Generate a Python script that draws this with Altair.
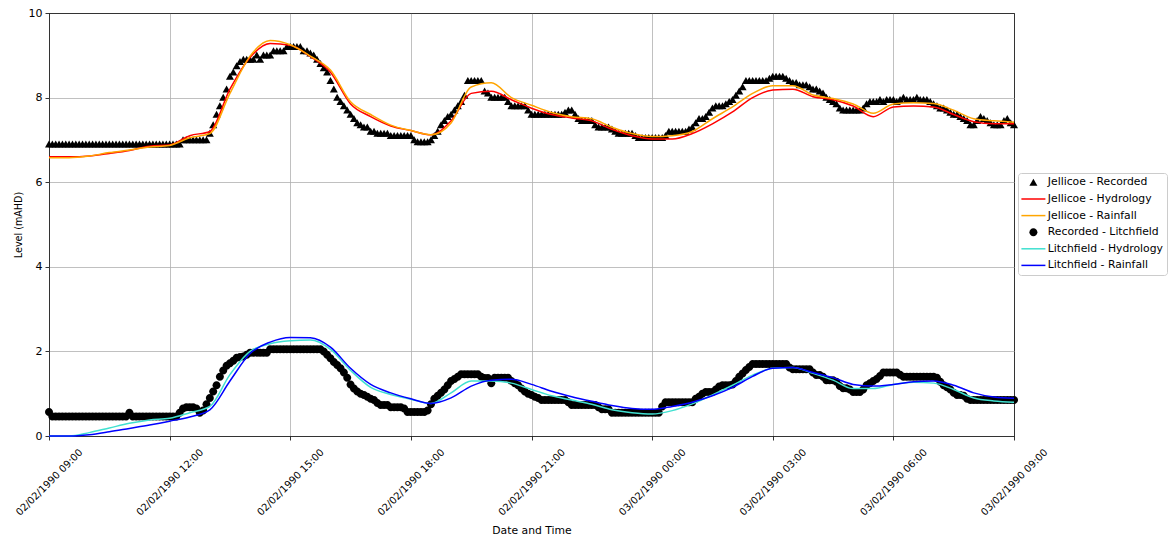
import altair as alt
import pandas as pd

# ---------------- data ----------------
NAMES = ["Jellicoe - Recorded", "Jellicoe - Hydrology", "Jellicoe - Rainfall",
         "Recorded - Litchfield", "Litchfield - Hydrology", "Litchfield - Rainfall"]
COLORS = ["#000000", "#ff0000", "#ffa500", "#000000", "#40e0d0", "#0000ff"]

START = "1990-02-02 09:00"
REC_STEP_MIN = 5      # recorded series: 5-minute samples
MOD_STEP_MIN = 30     # model series: 30-minute samples

jellicoe_recorded = [
    6.9, 6.9, 6.9, 6.9, 6.9, 6.9, 6.9, 6.9, 6.9, 6.9, 6.9, 6.9,
    6.9, 6.9, 6.9, 6.9, 6.9, 6.9, 6.9, 6.9, 6.9, 6.9, 6.9, 6.9,
    6.9, 6.9, 6.9, 6.9, 6.9, 6.9, 6.9, 6.9, 6.9, 6.9, 6.9, 6.9,
    6.9, 6.9, 6.9, 6.9, 7.0, 7.0, 7.0, 7.0, 7.0, 7.0, 7.0, 7.0,
    7.15, 7.35, 7.6, 7.8, 8.0, 8.2, 8.5, 8.6, 8.75, 8.85, 8.9, 8.9,
    8.9, 8.9, 9.0, 8.9, 9.0, 9.0, 9.0, 9.1, 9.1, 9.1, 9.1, 9.2,
    9.2, 9.2, 9.2, 9.2, 9.1, 9.1, 9.05, 9.0, 8.9, 8.8, 8.7, 8.6,
    8.4, 8.2, 8.0, 7.9, 7.8, 7.7, 7.6, 7.5, 7.4, 7.35, 7.3, 7.3,
    7.2, 7.2, 7.15, 7.15, 7.15, 7.15, 7.1, 7.1, 7.1, 7.1, 7.1, 7.1,
    7.1, 7.0, 6.95, 6.95, 6.95, 6.95, 7.0, 7.1, 7.2, 7.35, 7.45, 7.55,
    7.6, 7.7, 7.8, 7.9, 8.05, 8.4, 8.4, 8.4, 8.4, 8.4, 8.15, 8.1,
    8.0, 8.0, 8.0, 8.0, 8.0, 7.9, 7.8, 7.8, 7.8, 7.8, 7.8, 7.7,
    7.6, 7.6, 7.6, 7.6, 7.6, 7.6, 7.6, 7.6, 7.6, 7.6, 7.65, 7.7,
    7.7, 7.6, 7.5, 7.45, 7.45, 7.45, 7.45, 7.35, 7.3, 7.3, 7.3, 7.3,
    7.25, 7.2, 7.15, 7.15, 7.15, 7.15, 7.15, 7.1, 7.05, 7.05, 7.05, 7.05,
    7.05, 7.05, 7.05, 7.05, 7.1, 7.2, 7.2, 7.2, 7.2, 7.2, 7.2, 7.25,
    7.3, 7.4, 7.5, 7.5, 7.55, 7.65, 7.75, 7.8, 7.8, 7.8, 7.85, 7.9,
    7.95, 8.05, 8.15, 8.25, 8.4, 8.4, 8.4, 8.4, 8.4, 8.4, 8.4, 8.45,
    8.5, 8.5, 8.5, 8.5, 8.45, 8.4, 8.35, 8.35, 8.3, 8.3, 8.3, 8.25,
    8.2, 8.2, 8.15, 8.1, 8.0, 7.95, 7.9, 7.85, 7.75, 7.7, 7.7, 7.7,
    7.7, 7.7, 7.7, 7.75, 7.85, 7.9, 7.9, 7.9, 7.95, 7.9, 7.95, 7.95,
    7.95, 7.9, 7.95, 8.0, 7.95, 7.95, 7.95, 8.0, 7.95, 7.95, 7.95, 7.9,
    7.85, 7.8, 7.75, 7.75, 7.7, 7.65, 7.6, 7.6, 7.55, 7.5, 7.45, 7.35,
    7.35, 7.45, 7.55, 7.5, 7.45, 7.4, 7.35, 7.35, 7.35, 7.45, 7.5, 7.4,
    7.35,
]

litchfield_recorded = [
    0.57, 0.46, 0.46, 0.46, 0.46, 0.46, 0.46, 0.46, 0.46, 0.46, 0.46, 0.46,
    0.46, 0.46, 0.46, 0.46, 0.46, 0.46, 0.46, 0.46, 0.46, 0.46, 0.46, 0.46,
    0.55, 0.46, 0.46, 0.46, 0.46, 0.46, 0.46, 0.46, 0.46, 0.46, 0.46, 0.46,
    0.46, 0.46, 0.46, 0.55, 0.65, 0.68, 0.68, 0.68, 0.65, 0.55, 0.6, 0.75,
    0.9, 1.05, 1.2, 1.4, 1.55, 1.66, 1.72, 1.78, 1.85, 1.87, 1.88, 1.92,
    1.97, 1.97, 1.97, 1.97, 1.97, 1.97, 2.05, 2.05, 2.05, 2.05, 2.05, 2.05,
    2.05, 2.05, 2.05, 2.05, 2.05, 2.05, 2.05, 2.05, 2.05, 2.05, 2.0, 1.92,
    1.84, 1.75, 1.68, 1.6, 1.5, 1.38, 1.22, 1.12, 1.05, 1.0, 0.97, 0.93,
    0.88, 0.85, 0.78, 0.73, 0.73, 0.73, 0.68, 0.68, 0.68, 0.68, 0.65, 0.57,
    0.57, 0.57, 0.57, 0.57, 0.57, 0.6, 0.75, 0.88, 0.95, 1.02, 1.1, 1.2,
    1.3, 1.35, 1.4, 1.46, 1.46, 1.46, 1.46, 1.46, 1.46, 1.4, 1.37, 1.37,
    1.25, 1.38, 1.38, 1.38, 1.38, 1.38, 1.3, 1.25, 1.2, 1.12, 1.05, 1.0,
    0.97, 0.93, 0.9, 0.85, 0.85, 0.85, 0.85, 0.85, 0.85, 0.85, 0.85, 0.8,
    0.73, 0.73, 0.73, 0.73, 0.73, 0.73, 0.73, 0.73, 0.68, 0.63, 0.63, 0.63,
    0.55, 0.55, 0.55, 0.55, 0.55, 0.55, 0.55, 0.55, 0.55, 0.55, 0.55, 0.55,
    0.55, 0.55, 0.55, 0.7, 0.8, 0.8, 0.8, 0.8, 0.8, 0.8, 0.8, 0.8,
    0.8, 0.88, 0.93, 1.0, 1.04, 1.04, 1.04, 1.1, 1.17, 1.2, 1.2, 1.2,
    1.22, 1.3, 1.4, 1.48, 1.56, 1.63, 1.7, 1.7, 1.7, 1.7, 1.7, 1.7,
    1.7, 1.7, 1.7, 1.7, 1.7, 1.62, 1.58, 1.58, 1.58, 1.58, 1.58, 1.58,
    1.5, 1.44, 1.44, 1.4, 1.32, 1.32, 1.32, 1.28, 1.18, 1.13, 1.13, 1.1,
    1.04, 1.04, 1.04, 1.1, 1.2, 1.25, 1.3, 1.35, 1.42, 1.5, 1.5, 1.5,
    1.5, 1.5, 1.45, 1.4, 1.4, 1.4, 1.4, 1.4, 1.4, 1.4, 1.4, 1.4,
    1.4, 1.38, 1.28, 1.2, 1.15, 1.1, 1.02, 0.97, 0.97, 0.95, 0.88, 0.85,
    0.85, 0.85, 0.85, 0.85, 0.85, 0.85, 0.85, 0.85, 0.85, 0.85, 0.85, 0.85,
    0.85,
]

jellicoe_hydrology = [
    6.60, 6.60, 6.62, 6.68, 6.75, 6.85, 6.88, 7.10, 7.20, 8.20,
    8.95, 9.28, 9.24, 8.97, 8.60, 7.85, 7.55, 7.33, 7.22, 7.12,
    7.45, 8.10, 8.15, 7.95, 7.75, 7.60, 7.52, 7.45, 7.25, 7.10,
    7.02, 7.02, 7.15, 7.38, 7.66, 8.00, 8.18, 8.20, 8.02, 7.95,
    7.80, 7.55, 7.78, 7.80, 7.78, 7.60, 7.43, 7.38, 7.38,
]

jellicoe_rainfall = [
    6.58, 6.58, 6.62, 6.70, 6.76, 6.83, 6.87, 7.05, 7.15, 8.10,
    8.98, 9.35, 9.25, 8.98, 8.65, 7.90, 7.60, 7.35, 7.22, 7.12,
    7.40, 8.25, 8.35, 8.00, 7.82, 7.65, 7.55, 7.50, 7.30, 7.15,
    7.08, 7.10, 7.20, 7.50, 7.78, 8.10, 8.28, 8.28, 8.06, 7.98,
    7.85, 7.63, 7.85, 7.88, 7.86, 7.70, 7.50, 7.45, 7.42,
]

litchfield_hydrology = [
    0.00, 0.00, 0.08, 0.19, 0.30, 0.38, 0.42, 0.55, 0.70, 1.45,
    2.00, 2.18, 2.25, 2.27, 2.05, 1.55, 1.15, 0.98, 0.87, 0.77,
    1.02, 1.30, 1.30, 1.25, 1.10, 0.95, 0.85, 0.75, 0.62, 0.55,
    0.52, 0.60, 0.76, 0.97, 1.20, 1.44, 1.60, 1.62, 1.48, 1.32,
    1.12, 1.12, 1.22, 1.27, 1.25, 1.10, 0.90, 0.83, 0.80,
]

litchfield_rainfall = [
    0.00, 0.00, 0.03, 0.10, 0.18, 0.26, 0.35, 0.45, 0.62, 1.30,
    1.95, 2.22, 2.33, 2.32, 2.10, 1.60, 1.22, 1.02, 0.88, 0.77,
    0.90, 1.18, 1.32, 1.34, 1.22, 1.06, 0.93, 0.82, 0.72, 0.65,
    0.63, 0.70, 0.80, 0.95, 1.15, 1.41, 1.60, 1.62, 1.50, 1.38,
    1.22, 1.18, 1.22, 1.28, 1.30, 1.20, 1.02, 0.92, 0.89,
]

TICK_LABEL_HOURS = [(2, 9), (2, 12), (2, 15), (2, 18), (2, 21), (3, 0), (3, 3), (3, 6), (3, 9)]


def frame(values, step_min, name):
    t = pd.date_range(START, periods=len(values), freq=f"{step_min}min")
    return pd.DataFrame({"t": t.strftime("%Y-%m-%dT%H:%M:%S"), "v": values, "series": name})


df_jr = frame(jellicoe_recorded, REC_STEP_MIN, NAMES[0])
df_jh = frame(jellicoe_hydrology, MOD_STEP_MIN, NAMES[1])
df_jf = frame(jellicoe_rainfall, MOD_STEP_MIN, NAMES[2])
df_lr = frame(litchfield_recorded, REC_STEP_MIN, NAMES[3])
df_lh = frame(litchfield_hydrology, MOD_STEP_MIN, NAMES[4])
df_lf = frame(litchfield_rainfall, MOD_STEP_MIN, NAMES[5])

# ---------------- styling ----------------
FONT = "DejaVu Sans"
TRI = "M0,-0.75L0.8,0.65L-0.8,0.65Z"
CIRC = "M0.8,0A0.8,0.8,0,1,1,-0.8,0A0.8,0.8,0,1,1,0.8,0Z"
LINE = "M-2.4,-0.15L2.4,-0.15L2.4,0.15L-2.4,0.15Z"
SHAPES = [TRI, LINE, LINE, CIRC, LINE, LINE]

tick_dates = [alt.DateTime(year=1990, month=2, date=d, hours=h) for d, h in TICK_LABEL_HOURS]

edge_x = ("datum.value <= datetime(1990,1,2,9) || datum.value >= datetime(1990,1,3,9)")
edge_y = "datum.value <= 0 || datum.value >= 10"

x_enc = alt.X(
    "t:T",
    scale=alt.Scale(domain=[tick_dates[0], tick_dates[-1]], nice=False),
    axis=alt.Axis(
        values=tick_dates, format="%d/%m/%Y %H:%M",
        labelAngle=-45, labelAlign="center", labelBaseline="middle",
        labelPadding=42, labelFontSize=10, labelColor="black", labelFont=FONT,
        labelOverlap=False, labelFlush=False,
        tickSize=4, tickColor="black", tickWidth=0.8, domain=False,
        gridColor={"condition": {"test": edge_x, "value": "#333333"}, "value": "#b0b0b0"},
        gridWidth=0.8,
        title="Date and Time", titleFontSize=10.8, titleFontWeight="normal",
        titleColor="black", titleFont=FONT, titleY=94, titleBaseline="middle",
    ),
)

y_enc = alt.Y(
    "v:Q",
    scale=alt.Scale(domain=[0, 10], nice=False),
    axis=alt.Axis(
        values=[0, 2, 4, 6, 8, 10], labelFontSize=11, labelColor="black", labelFont=FONT,
        labelPadding=3, tickSize=4, tickColor="black", tickWidth=0.8, domain=False,
        gridColor={"condition": {"test": edge_y, "value": "#333333"}, "value": "#b0b0b0"},
        gridWidth=0.8,
        title="Level (mAHD)", titleFontSize=9.6, titleFontWeight="normal",
        titleColor="black", titleFont=FONT, titleX=-31, titleY=211.5,
        titleBaseline="middle", titleAlign="center", titleAngle=270,
    ),
)

legend = alt.Legend(
    title=None, orient="none", legendX=969, legendY=160,
    labelFontSize=10.8, labelFont=FONT, labelColor="black",
    symbolSize=100, symbolOffset=6, labelOffset=9, rowPadding=4.6,
    padding=4, fillColor="white", strokeColor="#cccccc", cornerRadius=3,
    symbolOpacity=1, symbolStrokeWidth=0,
)

color_enc = alt.Color("series:N", scale=alt.Scale(domain=NAMES, range=COLORS), legend=legend)
shape_enc = alt.Shape("series:N", scale=alt.Scale(domain=NAMES, range=SHAPES), legend=legend)
stroke_enc = alt.Stroke("series:N", scale=alt.Scale(domain=NAMES, range=COLORS), legend=None)


def points(df):
    return alt.Chart(df).mark_point(filled=True, size=100, opacity=1, strokeWidth=0).encode(
        x=x_enc, y=y_enc, color=color_enc, shape=shape_enc)


def line(df):
    return alt.Chart(df).mark_line(strokeWidth=1.5, interpolate="monotone").encode(
        x=x_enc, y=y_enc, stroke=stroke_enc)


chart = alt.layer(
    points(df_jr), line(df_jh), line(df_jf),
    points(df_lr), line(df_lh), line(df_lf),
).properties(
    width=965, height=423,
    autosize=alt.AutoSizeParams(type="none"),
    padding={"left": 41, "top": 5, "right": 154, "bottom": 101},
).configure(
    font=FONT,
).configure_view(
    stroke="#333333", strokeWidth=1,
)

chart.save("out.html", embed_options={"renderer": "svg", "actions": False})
